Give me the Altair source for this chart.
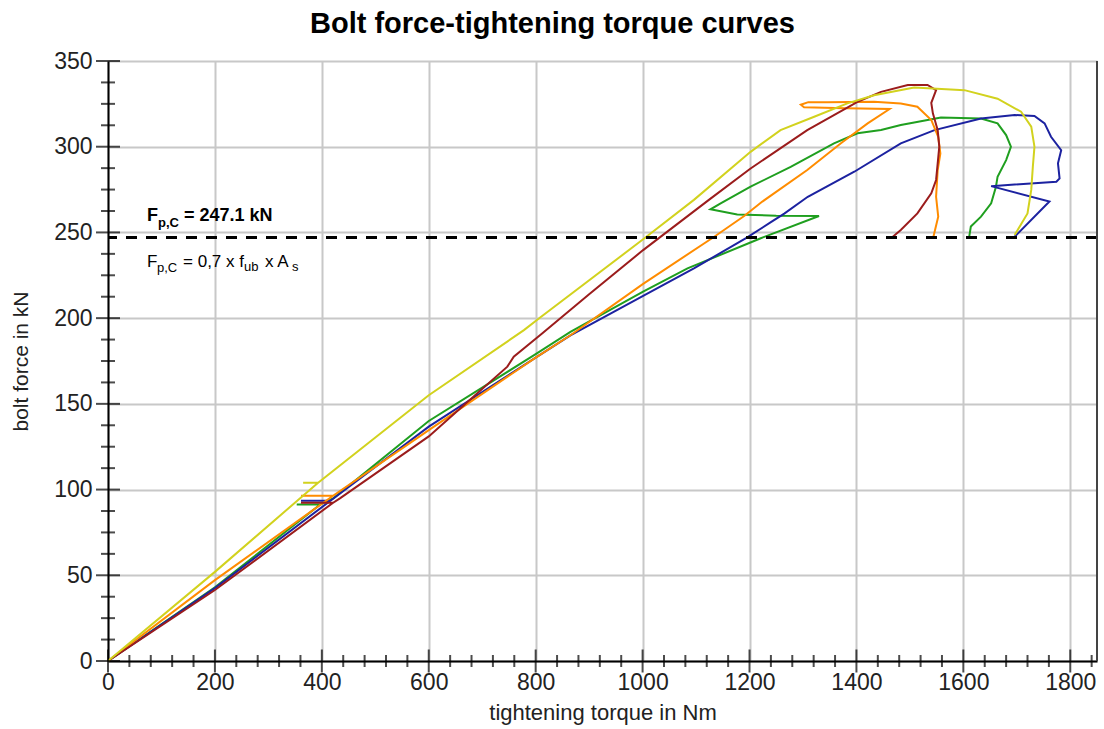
import altair as alt
import pandas as pd

# ---------------- data ----------------
series_names = ["green", "blue", "orange", "darkred", "yellow"]
series_colors = ["#1f9f1f", "#1c22a0", "#ff8c00", "#9b1c1c", "#d2d21e"]

yellow_T = [0, 200, 393, 365, 393, 600, 778, 809, 1001, 1096, 1202, 1258, 1321, 1383, 1433,
            1508, 1602, 1664, 1708, 1727, 1733, 1730, 1727, 1720, 1696]
yellow_F = [0, 52, 104, 104, 104, 155, 193, 200.5, 246, 269, 297, 309.7, 317.5, 325.3, 330,
            334.6, 333, 328, 320.4, 311.7, 300, 288.4, 274.8, 261.1, 248.5]

red_T = [0, 200, 421, 361, 421, 434.5, 600, 665, 747, 759, 812, 900, 1001, 1124, 1202, 1308,
         1402, 1446, 1496, 1533, 1549, 1540, 1543, 1552, 1555, 1552, 1549, 1540, 1514, 1483, 1468]
red_F = [0, 41.4, 92.3, 92.3, 92.3, 95, 131, 149, 171.7, 177.5, 191, 214, 239.7, 269, 287.3, 309.7,
         326.2, 332, 336, 336, 333, 325.6, 319.5, 309.7, 300, 290.3, 280.6, 272.8, 261.1, 251.4, 247.5]

orange_T = [0, 200, 421, 361, 421, 600, 800, 865, 1001, 1134, 1190, 1224, 1308, 1371, 1421, 1462,
            1380, 1302, 1296, 1310, 1346, 1433, 1483, 1514, 1540, 1553, 1557, 1552, 1549, 1553, 1544]
orange_F = [0, 47.2, 96.4, 96.4, 96.4, 134.7, 177, 190, 220, 247.5, 259.6, 268, 286.4, 302, 313.6, 322,
            322.5, 323, 324.5, 326, 326, 326.3, 325.2, 323.3, 315.6, 305.8, 296, 286.4, 270.8, 259.2, 247.5]

blue_T = [0, 200, 416, 361, 416, 600, 800, 865, 1001, 1096, 1195, 1240, 1265, 1309, 1396, 1483,
          1546, 1633, 1696, 1733, 1752, 1764, 1783, 1777, 1780, 1774, 1652, 1761, 1696]
blue_F = [0, 42.5, 93.5, 93.5, 93.5, 136.7, 177, 190, 213, 229, 247, 256, 261, 270.8, 285.4, 302,
          309.7, 316.5, 318.5, 317.9, 313.6, 305.8, 298, 290.3, 281.5, 279.6, 277, 268, 247.5]

green_T = [0, 200, 397, 353, 397, 422, 600, 800, 865, 1001, 1084, 1221, 1330, 1250, 1177, 1127,
           1146, 1202, 1277, 1358, 1402, 1446, 1483, 1558, 1633, 1664, 1680, 1689, 1680, 1664,
           1661, 1652, 1633, 1614, 1611]
green_F = [0, 43, 91.3, 91.3, 91.3, 95, 140, 179, 192, 215.5, 229, 246.6, 259.6, 259.8, 260.5, 263.5,
           267, 276.7, 288.3, 302, 307.8, 309.7, 312.7, 317.1, 316.5, 313.6, 306.8, 300, 292.2, 282.5,
           276.7, 267, 259.2, 253.4, 247.5]

x_major = [0, 200, 400, 600, 800, 1000, 1200, 1400, 1600, 1800]
x_minor = [v for v in range(40, 1850, 40) if v % 200 != 0]
y_major = [0, 50, 100, 150, 200, 250, 300, 350]
y_minor = [v * 12.5 for v in range(1, 28) if (v * 12.5) % 50 != 0]

F_pc = 247.1
x_max = 1850
y_max = 350

# ---------------- build tables ----------------
curves = {
    "green": (green_T, green_F),
    "blue": (blue_T, blue_F),
    "orange": (orange_T, orange_F),
    "darkred": (red_T, red_F),
    "yellow": (yellow_T, yellow_F),
}
rows = []
for name in series_names:
    Ts, Fs = curves[name]
    for i, (t, f) in enumerate(zip(Ts, Fs)):
        rows.append({"series": name, "T": t, "F": f, "idx": i})
df = pd.DataFrame(rows)

FONT = "Liberation Sans"
XTITLE = "tightening torque in Nm"
YTITLE = "bolt force in kN"
xs = alt.Scale(domain=[0, x_max], nice=False, zero=False)
ys = alt.Scale(domain=[0, y_max], nice=False, zero=False)

x_axis = alt.Axis(values=x_major, format="d", ticks=False, tickSize=0, labelPadding=10,
                  labelFontSize=23, labelColor="#222", titleFontSize=22,
                  titleColor="#222", titleFontWeight="normal", titlePadding=8,
                  domainColor="black", domainWidth=2, grid=True,
                  gridColor="#c8c8c8", gridWidth=2, labelFlush=False)
y_axis = alt.Axis(values=y_major, format="d", ticks=False, tickSize=0, labelPadding=16,
                  labelFontSize=23, labelColor="#222", titleFontSize=21,
                  titleColor="#222", titleFontWeight="normal", titlePadding=22,
                  domainColor="black", domainWidth=2, grid=True,
                  gridColor="#c8c8c8", gridWidth=2, labelFlush=False)


def X(field):
    return alt.X(field, scale=xs, axis=x_axis, title=XTITLE)


def Y(field):
    return alt.Y(field, scale=ys, axis=y_axis, title=YTITLE)


def XD(v):
    return alt.X(datum=v, scale=xs, axis=x_axis, title=XTITLE)


def YD(v):
    return alt.Y(datum=v, scale=ys, axis=y_axis, title=YTITLE)


lines = alt.Chart(df).mark_line(strokeWidth=2).encode(
    x=X("T:Q"), y=Y("F:Q"),
    color=alt.Color("series:N", scale=alt.Scale(domain=series_names, range=series_colors), legend=None),
    order="idx:Q",
)

xt_major = alt.Chart(pd.DataFrame({"T": x_major})).mark_tick(
    orient="vertical", size=23, thickness=2, color="black").encode(x=X("T:Q"), y=YD(0))
xt_minor = alt.Chart(pd.DataFrame({"T": x_minor})).mark_tick(
    orient="vertical", size=12, thickness=2, color="black").encode(x=X("T:Q"), y=YD(0))
yt_major = alt.Chart(pd.DataFrame({"F": y_major})).mark_tick(
    orient="horizontal", size=24, thickness=2, color="black").encode(y=Y("F:Q"), x=XD(0))
yt_minor = alt.Chart(pd.DataFrame({"F": y_minor})).mark_tick(
    orient="horizontal", size=14, thickness=2, color="black").encode(y=Y("F:Q"), x=XD(0))

dashed = alt.Chart(pd.DataFrame({"F": [F_pc]})).mark_rule(
    strokeDash=[11, 9], strokeWidth=3, color="black").encode(y=Y("F:Q"))

border = alt.Chart(pd.DataFrame({"T": [x_max]})).mark_rule(
    strokeWidth=2, color="#444").encode(x=X("T:Q"))

one = pd.DataFrame({"a": [0]})
ann_x = 73


def piece(txt, dx, dy, size, weight="normal"):
    return alt.Chart(one).mark_text(
        text=txt, align="left", baseline="alphabetic", dx=dx, dy=dy,
        fontSize=size, fontWeight=weight, font=FONT, color="black").encode(
        x=XD(ann_x), y=YD(F_pc))


ann = [
    piece("F", 0, -16, 18, "bold"),
    piece("p,C", 11, -10, 13, "bold"),
    piece(f"= {F_pc} kN", 37, -16, 18, "bold"),
    piece("F", 0, 30, 17),
    piece("p,C", 10, 35, 13),
    piece("= 0,7 x f", 36, 30, 17),
    piece("ub", 97, 34, 13),
    piece("x A", 118, 30, 17),
    piece("s", 145, 34, 13),
]

chart = alt.layer(lines, dashed, border, xt_major, xt_minor, yt_major, yt_minor, *ann).properties(
    width=989, height=600,
    title=alt.TitleParams("Bolt force-tightening torque curves", fontSize=29, font=FONT,
                          fontWeight="bold", anchor="middle", frame="group", dx=-50,
                          offset=11, color="black"),
    autosize=alt.AutoSizeParams(type="none"),
    padding={"left": 108, "top": 61, "right": 7, "bottom": 68},
    background="white",
).configure_axis(labelFont=FONT, titleFont=FONT).configure_view(strokeWidth=0)

chart.save("out.html", embed_options={"renderer": "svg", "actions": False})
